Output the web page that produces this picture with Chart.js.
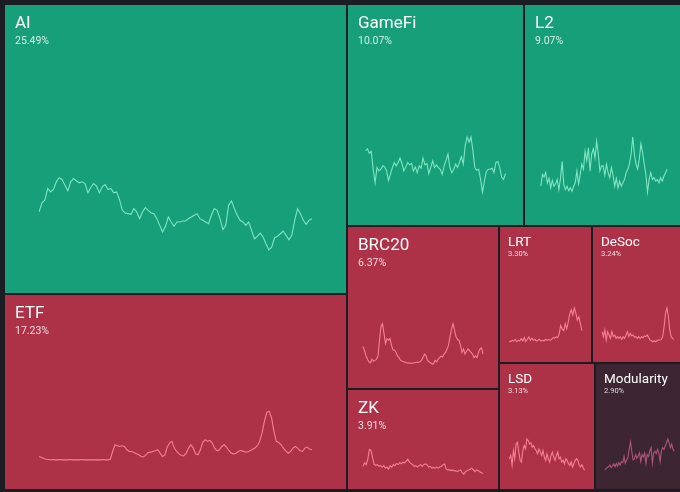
<!DOCTYPE html>
<html>
<head>
<meta charset="utf-8">
<script src="https://cdn.jsdelivr.net/npm/chart.js@4.4.1/dist/chart.umd.min.js"></script>
<style>
html, body { margin: 0; padding: 0; background: #1c1d22; overflow: hidden; }
#map { position: relative; width: 680px; height: 492px; overflow: hidden; }
.cell { position: absolute; overflow: hidden; }
</style>
</head>
<body>
<div id="map"></div>
<script>
// sectors, their share of the map and direction
const categories = ["AI", "ETF", "GameFi", "L2", "BRC20", "ZK", "LRT", "DeSoc", "LSD", "Modularity"];
const shares = [25.49, 17.23, 10.07, 9.07, 6.37, 3.91, 3.30, 3.24, 3.13, 2.90];
const trends = ["up", "down", "up", "up", "down", "down", "down", "down", "down", "flat"];

// sparkline values (relative units)
const aiSeries = [115,142,150,185,175,182,205,217,212,195,178,205,215,208,202,205,200,172,188,200,192,172,190,197,182,185,172,175,152,120,112,110,108,125,115,95,115,128,120,112,110,95,75,55,72,100,85,72,85,85,88,88,95,100,105,110,95,90,85,80,105,125,120,95,62,75,135,148,125,105,90,85,75,85,60,35,42,52,40,20,2,10,38,42,50,58,45,32,45,90,125,110,90,78,90,95];
const etfSeries = [20,17,14,12,11,10,11,10,10,11,10,10,10,11,10,10,10,10,11,10,10,10,10,10,10,10,10,11,10,10,12,35,55,52,50,52,50,40,35,35,32,28,25,20,19,25,32,33,35,37,40,30,20,25,48,60,65,45,35,28,23,22,30,45,55,45,28,25,40,62,70,65,68,60,45,37,40,50,55,48,38,30,28,30,35,38,36,33,34,37,42,45,52,65,90,125,152,154,135,95,65,62,55,45,37,30,35,45,50,45,37,35,45,48,42,40];
const gameFiSeries = [130,135,122,128,75,35,80,70,75,85,82,70,42,60,80,95,85,95,108,92,70,82,95,88,92,70,82,65,85,78,108,88,92,62,80,100,80,88,80,75,60,85,102,120,80,65,75,90,80,95,112,90,145,170,155,170,130,80,72,75,45,8,40,68,75,75,78,65,95,98,80,52,45,62];
const l2Series = [25,60,52,65,35,48,20,42,25,32,45,15,48,98,30,15,25,12,20,10,25,35,70,32,60,90,75,128,100,138,70,120,135,108,158,120,70,85,85,58,90,65,50,80,58,25,48,20,40,25,35,45,65,75,90,120,170,120,90,75,105,150,125,90,60,8,45,65,45,50,40,45,35,50,40,55,65,75];
const brc20Series = [57,45,30,20,13,10,20,15,17,20,30,75,115,123,95,65,80,75,80,60,47,47,40,30,25,17,15,13,12,10,9,10,8,9,10,10,12,11,13,17,25,35,30,17,13,10,7,7,17,13,20,25,29,27,35,40,50,60,85,107,123,105,85,77,75,60,40,50,35,43,50,45,40,35,25,30,25,40,50,53,35];
const zkSeries = [30,40,35,50,78,75,55,35,33,35,30,32,28,32,25,28,22,32,28,35,32,38,35,40,37,42,40,45,50,42,38,35,30,32,28,32,35,30,35,37,35,28,30,25,27,25,28,25,28,30,35,37,22,20,20,18,20,17,18,15,18,20,12,8,15,18,20,22,25,20,15,20,18,15,12,10];
const lrtSeries = [10,8,12,10,15,8,12,10,17,10,20,8,15,22,12,18,12,15,10,12,15,10,12,10,15,12,15,12,15,20,18,22,20,30,55,45,40,60,45,65,88,100,85,105,90,70,80,60,40];
const deSocSeries = [35,20,40,10,35,25,15,35,20,25,15,20,15,20,12,20,15,25,35,20,30,22,25,18,20,15,20,15,20,17,22,20,25,18,10,8,5,8,5,8,10,10,12,20,50,90,105,80,40,20,15,12];
const lsdSeries = [40,50,20,65,40,85,90,60,35,30,65,80,70,100,95,85,88,75,80,70,65,55,70,60,50,65,45,35,55,40,30,50,60,45,35,50,60,40,45,30,35,25,40,35,25,20,30,15,25,35,40,35,20,15,22,12,5];
const modularitySeries = [5,10,13,15,20,13,17,23,15,25,17,27,20,30,27,45,25,35,40,65,87,60,35,37,50,40,47,55,30,50,43,55,25,50,45,60,70,25,55,60,53,65,55,30,60,70,65,75,85,95,83,70,80,65,60];

const seriesList = [aiSeries, etfSeries, gameFiSeries, l2Series, brc20Series, zkSeries, lrtSeries, deSocSeries, lsdSeries, modularitySeries];

const palette = {
  up:   { bg: "#169f78", line: "#82e4c2" },
  down: { bg: "#ad3248", line: "#f48196" },
  flat: { bg: "#3d2531", line: "#ad5677" }
};

// squarified layout of the shares
function squarify(values, x, y, w, h) {
  const total = values.reduce((a, b) => a + b, 0);
  const items = values.map((v, i) => ({ i, a: v / total * w * h }));
  const out = [];
  let row = [];
  const worst = (r, side) => {
    const s = r.reduce((a, b) => a + b.a, 0);
    const mx = Math.max(...r.map(d => d.a)), mn = Math.min(...r.map(d => d.a));
    return Math.max(side * side * mx / (s * s), (s * s) / (side * side * mn));
  };
  const place = (r) => {
    const s = r.reduce((a, b) => a + b.a, 0);
    if (w >= h) {
      const cw = s / h;
      let cy = y;
      r.forEach(d => { const ch = d.a / cw; out[d.i] = { x, y: cy, w: cw, h: ch }; cy += ch; });
      x += cw; w -= cw;
    } else {
      const rh = s / w;
      let cx = x;
      r.forEach(d => { const rw = d.a / rh; out[d.i] = { x: cx, y, w: rw, h: rh }; cx += rw; });
      y += rh; h -= rh;
    }
  };
  items.forEach(item => {
    const side = Math.min(w, h);
    if (row.length === 0 || worst(row.concat([item]), side) <= worst(row, side)) {
      row.push(item);
    } else {
      place(row);
      row = [item];
    }
  });
  if (row.length) place(row);
  return out;
}

const cellPaint = {
  id: "cellPaint",
  beforeDraw(chart, args, opts) {
    const ctx = chart.ctx;
    ctx.save();
    ctx.fillStyle = opts.bg;
    ctx.fillRect(0, 0, chart.width, chart.height);
    const small = chart.width < 120;
    const pad = small ? 8 : 10;
    ctx.fillStyle = "#ffffff";
    ctx.textBaseline = "alphabetic";
    ctx.font = (small ? "13.5px" : "17px") + " Roboto, 'Liberation Sans', sans-serif";
    ctx.fillText(opts.name, pad, small ? 19 : 23);
    ctx.fillStyle = "rgba(255,255,255,0.82)";
    ctx.font = (small ? "7.5px" : "10.5px") + " Roboto, 'Liberation Sans', sans-serif";
    ctx.fillText(opts.pct, pad, small ? 29 : 39);
    ctx.restore();
  }
};

const rects = squarify(shares, 4, 4, 680, 486);
const map = document.getElementById("map");

categories.forEach((name, i) => {
  const r = rects[i];
  const left = Math.round(r.x) + 1, top = Math.round(r.y) + 1;
  const w = Math.round(r.x + r.w) - 1 - left, h = Math.round(r.y + r.h) - 1 - top;
  const div = document.createElement("div");
  div.className = "cell";
  div.style.left = left + "px";
  div.style.top = top + "px";
  div.style.width = w + "px";
  div.style.height = h + "px";
  const canvas = document.createElement("canvas");
  canvas.width = w;
  canvas.height = h;
  canvas.style.width = w + "px";
  canvas.style.height = h + "px";
  div.appendChild(canvas);
  map.appendChild(div);

  const pal = palette[trends[i]];
  const series = seriesList[i];
  new Chart(canvas, {
    type: "line",
    data: {
      labels: series.map((_, k) => k),
      datasets: [{
        data: series,
        borderColor: pal.line,
        borderWidth: 1.1,
        pointRadius: 0,
        tension: 0,
        fill: false,
        clip: false
      }]
    },
    options: {
      responsive: false,
      animation: false,
      events: [],
      layout: { padding: { left: w * 0.1, right: w * 0.1, top: h * 0.6, bottom: h * 0.15 } },
      scales: {
        x: { display: false },
        y: { display: false, bounds: "data", grace: 0 }
      },
      plugins: {
        legend: { display: false },
        tooltip: { enabled: false },
        cellPaint: { bg: pal.bg, name: name, pct: shares[i].toFixed(2) + "%" }
      }
    },
    plugins: [cellPaint]
  });
});
</script>
</body>
</html>
